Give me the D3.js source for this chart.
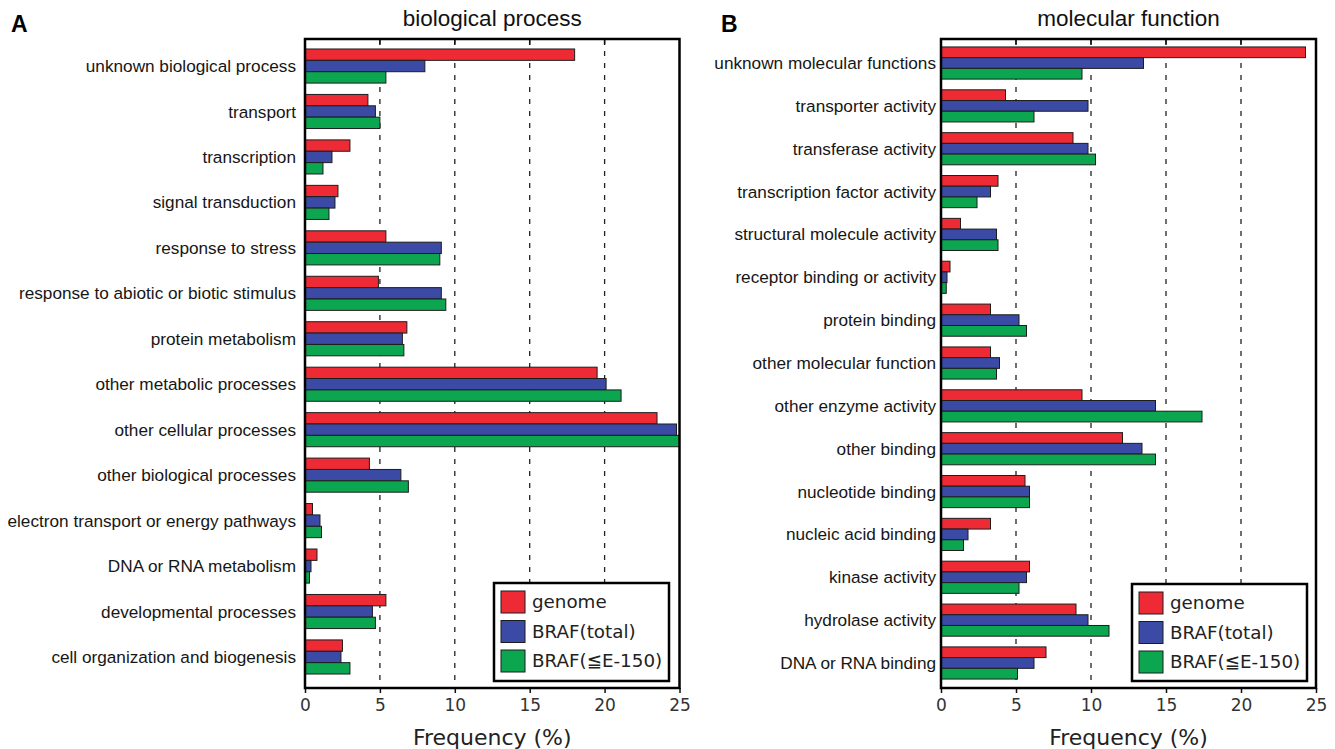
<!DOCTYPE html>
<html>
<head>
<meta charset="utf-8">
<script src="https://cdn.jsdelivr.net/npm/d3@7"></script>
<style>
  html, body { margin: 0; padding: 0; background: #fff; }
  svg { display: block; }
  .cat { font-family: "Liberation Sans", Arial, sans-serif; font-size: 17.2px; fill: #161616; }
  .title { font-family: "Liberation Sans", Arial, sans-serif; font-size: 22.5px; fill: #111; }
  .letter { font-family: "Liberation Sans", Arial, sans-serif; font-size: 23px; font-weight: bold; fill: #000; }
  .tick { font-family: "DejaVu Sans", sans-serif; font-size: 17px; fill: #333; }
  .xlab { font-family: "DejaVu Sans", sans-serif; font-size: 22px; fill: #222; }
  .leg { font-family: "DejaVu Sans", sans-serif; font-size: 18.3px; fill: #222; }
</style>
</head>
<body>
<svg id="chart" width="1335" height="749"></svg>
<script>
// ---- data (frequency, %) ----
const seriesNames = ["genome", "BRAF(total)", "BRAF(\u2266E-150)"];
const seriesColors = ["#ee2b34", "#3b4aa4", "#0da650"];
const xTicks = [0, 5, 10, 15, 20, 25];
const gridTicks = [5, 10, 15, 20];

const bpCategories = [
  "unknown biological process", "transport", "transcription", "signal transduction",
  "response to stress", "response to abiotic or biotic stimulus", "protein metabolism",
  "other metabolic processes", "other cellular processes", "other biological processes",
  "electron transport or energy pathways", "DNA or RNA metabolism",
  "developmental processes", "cell organization and biogenesis"
];
const bpGenome    = [18.0, 4.2, 3.0, 2.2, 5.4, 4.9, 6.8, 19.5, 23.5, 4.3, 0.5, 0.8, 5.4, 2.5];
const bpBrafTotal = [8.0, 4.7, 1.8, 2.0, 9.1, 9.1, 6.5, 20.1, 24.8, 6.4, 1.0, 0.4, 4.5, 2.4];
const bpBrafE150  = [5.4, 5.0, 1.2, 1.6, 9.0, 9.4, 6.6, 21.1, 25.0, 6.9, 1.1, 0.3, 4.7, 3.0];

const mfCategories = [
  "unknown molecular functions", "transporter activity", "transferase activity",
  "transcription factor activity", "structural molecule activity",
  "receptor binding or activity", "protein binding", "other molecular function",
  "other enzyme activity", "other binding", "nucleotide binding",
  "nucleic acid binding", "kinase activity", "hydrolase activity", "DNA or RNA binding"
];
const mfGenome    = [24.3, 4.3, 8.8, 3.8, 1.3, 0.6, 3.3, 3.3, 9.4, 12.1, 5.6, 3.3, 5.9, 9.0, 7.0];
const mfBrafTotal = [13.5, 9.8, 9.8, 3.3, 3.7, 0.4, 5.2, 3.9, 14.3, 13.4, 5.9, 1.8, 5.7, 9.8, 6.2];
const mfBrafE150  = [9.4, 6.2, 10.3, 2.4, 3.8, 0.35, 5.7, 3.7, 17.4, 14.3, 5.9, 1.5, 5.2, 11.2, 5.1];

const svg = d3.select("#chart");

function drawPanel(cfg) {
  const { letter, letterX, title, categories, series, x0, x1, top, bottom, bandTop, bandBottom, labelGap, legend } = cfg;
  const g = svg.append("g");

  const x = d3.scaleLinear().domain([0, 25]).range([x0, x1]);
  const y = d3.scaleBand().domain(categories).range([bandTop, bandBottom])
    .paddingInner(0.25).paddingOuter(0.125);
  const ySub = d3.scaleBand().domain(seriesNames).range([0, y.bandwidth()]);

  // dashed grid
  g.append("g").selectAll("line").data(gridTicks).join("line")
    .attr("x1", d => x(d)).attr("x2", d => x(d))
    .attr("y1", top).attr("y2", bottom)
    .attr("stroke", "#222").attr("stroke-width", 1.3)
    .attr("stroke-dasharray", "5,7");

  // bars
  const rows = categories.map((c, i) => ({ c, vals: series.map(s => s[i]) }));
  const grp = g.append("g").selectAll("g").data(rows).join("g")
    .attr("transform", d => `translate(0,${y(d.c)})`);
  grp.selectAll("rect").data(d => d.vals.map((v, k) => ({ v, k }))).join("rect")
    .attr("x", x(0))
    .attr("y", d => ySub(seriesNames[d.k]))
    .attr("width", d => x(d.v) - x(0))
    .attr("height", ySub.bandwidth())
    .attr("fill", d => seriesColors[d.k])
    .attr("stroke", "#1d1d1d").attr("stroke-width", 1);

  // category labels
  g.append("g").selectAll("text").data(categories).join("text")
    .attr("class", "cat")
    .attr("x", x0 - labelGap)
    .attr("y", d => y(d) + y.bandwidth() / 2)
    .attr("dy", "0.35em")
    .attr("text-anchor", "end")
    .text(d => d);

  // top inner ticks
  g.append("g").selectAll("line").data(gridTicks).join("line")
    .attr("x1", d => x(d)).attr("x2", d => x(d))
    .attr("y1", top).attr("y2", top + 6)
    .attr("stroke", "#111").attr("stroke-width", 1.5);

  // bottom axis
  const axis = d3.axisBottom(x).tickValues(xTicks).tickSize(5).tickPadding(6).tickFormat(d3.format("d"));
  const ax = g.append("g").attr("transform", `translate(0,${bottom})`).call(axis);
  ax.select(".domain").remove();
  ax.selectAll(".tick line").attr("stroke", "#111").attr("stroke-width", 1.5);
  ax.selectAll(".tick text").attr("class", "tick").attr("font-size", null).attr("font-family", null).attr("fill", null);

  // frame
  g.append("rect")
    .attr("x", x0).attr("y", top)
    .attr("width", x1 - x0).attr("height", bottom - top)
    .attr("fill", "none").attr("stroke", "#000").attr("stroke-width", 2.5);

  // titles
  g.append("text").attr("class", "title")
    .attr("x", (x0 + x1) / 2).attr("y", 26).attr("text-anchor", "middle").text(title);
  g.append("text").attr("class", "letter")
    .attr("x", letterX).attr("y", 32).text(letter);
  g.append("text").attr("class", "xlab")
    .attr("x", (x0 + x1) / 2).attr("y", 745).attr("text-anchor", "middle").text("Frequency (%)");

  // legend
  const lg = g.append("g").attr("transform", `translate(${legend.x},${legend.y})`);
  lg.append("rect").attr("width", legend.w).attr("height", legend.h)
    .attr("fill", "#fff").attr("stroke", "#000").attr("stroke-width", 2.5);
  const items = lg.selectAll("g").data(seriesNames).join("g")
    .attr("transform", (d, i) => `translate(7,${8 + i * 29.5})`);
  items.append("rect").attr("width", 24).attr("height", 22)
    .attr("fill", (d, i) => seriesColors[i]).attr("stroke", "#1d1d1d").attr("stroke-width", 1);
  items.append("text").attr("class", "leg").attr("x", 31).attr("y", 11).attr("dy", "0.35em").text(d => d);
}

drawPanel({
  letter: "A", letterX: 11, title: "biological process",
  categories: bpCategories, series: [bpGenome, bpBrafTotal, bpBrafE150],
  x0: 305, x1: 679.5, top: 39, bottom: 688, bandTop: 43.3, bandBottom: 679.7, labelGap: 9,
  legend: { x: 494, y: 583, w: 175, h: 98 }
});

drawPanel({
  letter: "B", letterX: 721, title: "molecular function",
  categories: mfCategories, series: [mfGenome, mfBrafTotal, mfBrafE150],
  x0: 941, x1: 1316, top: 39, bottom: 688, bandTop: 41.6, bandBottom: 684.4, labelGap: 5,
  legend: { x: 1132, y: 584, w: 175, h: 97 }
});
</script>
</body>
</html>
